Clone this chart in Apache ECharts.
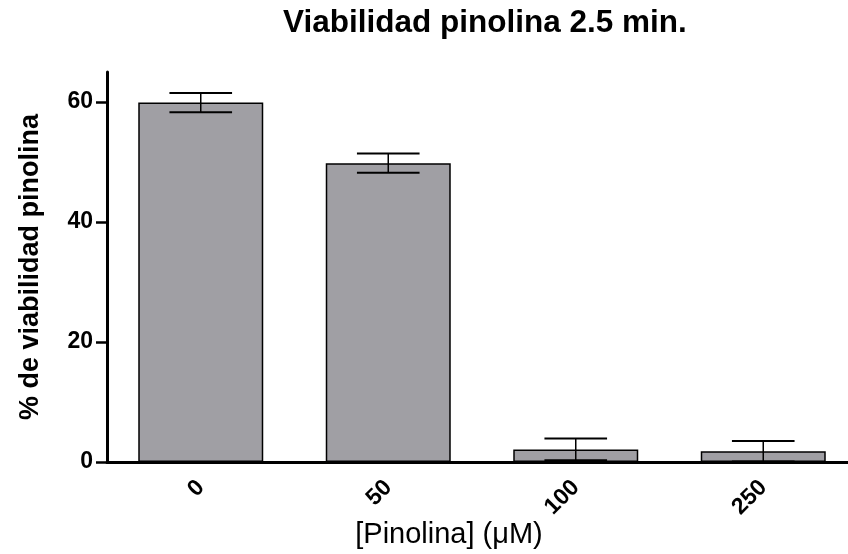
<!DOCTYPE html>
<html>
<head>
<meta charset="utf-8">
<script src="https://cdn.jsdelivr.net/npm/echarts@6/dist/echarts.min.js"></script>
<style>
  html, body { margin: 0; padding: 0; background: #fff; }
  #main { width: 848px; height: 554px; }
</style>
</head>
<body>
<div id="main"></div>
<script>
// datos
var categories = ['0', '50', '100', '250'];
var viability = [59.9, 49.8, 2.1, 1.8];
var sem = [1.6, 1.6, 1.8, 1.7];
var yTicks = [0, 20, 40, 60];

var FONT = 'Liberation Sans, Arial, Helvetica, sans-serif';

var errData = viability.map(function (v, i) {
    return [i, v - sem[i], v + sem[i]];
});

var myChart = echarts.init(document.getElementById('main'));
myChart.setOption({
    backgroundColor: '#fff',
    animation: false,
    title: {
        text: 'Viabilidad pinolina 2.5 min.',
        left: 283,
        top: 7,
        padding: 0,
        textStyle: { fontFamily: FONT, fontWeight: 'bold', fontSize: 31.5, color: '#000' }
    },
    graphic: [{
        type: 'text',
        x: 449,
        y: 535,
        style: {
            text: '[Pinolina] (\u03bcM)',
            font: '29px ' + FONT,
            fill: '#000',
            align: 'center',
            verticalAlign: 'middle'
        }
    }],
    grid: { left: 107, width: 750, top: 72, bottom: 92, outerBoundsMode: 'none' },
    xAxis: {
        type: 'category',
        data: categories,
        axisLine: { lineStyle: { color: '#000', width: 3 } },
        axisTick: { alignWithLabel: true, length: 9, lineStyle: { color: '#000', width: 3 } },
        axisLabel: {
            rotate: 45, margin: 22, color: '#000',
            fontFamily: FONT, fontWeight: 'bold', fontSize: 23
        }
    },
    yAxis: {
        type: 'value',
        min: 0,
        max: 65,
        name: '% de viabilidad pinolina',
        nameLocation: 'middle',
        nameGap: 63,
        nameTextStyle: { fontFamily: FONT, fontWeight: 'bold', fontSize: 27, color: '#000' },
        splitLine: { show: false },
        axisLine: { show: true, lineStyle: { color: '#000', width: 3 } },
        axisTick: { show: true, length: 11, customValues: yTicks, lineStyle: { color: '#000', width: 2.5 } },
        axisLabel: {
            margin: 14, color: '#000', customValues: yTicks,
            fontFamily: FONT, fontWeight: 'bold', fontSize: 23
        }
    },
    series: [{
        type: 'bar',
        data: viability,
        barWidth: 125,
        itemStyle: { color: '#a09fa4', borderColor: '#000', borderWidth: 1.5 }
    }, {
        type: 'custom',
        data: errData,
        z: 5,
        renderItem: function (params, api) {
            var x = api.value(0);
            var lo = api.coord([x, api.value(1)]);
            var hi = api.coord([x, api.value(2)]);
            var half = api.size([1, 0])[0] * 0.167;
            var st = { stroke: '#000', lineWidth: 2 };
            return {
                type: 'group',
                children: [
                    { type: 'line', shape: { x1: hi[0], y1: hi[1], x2: lo[0], y2: lo[1] }, style: { stroke: '#000', lineWidth: 1.5 } },
                    { type: 'line', shape: { x1: hi[0] - half, y1: hi[1], x2: hi[0] + half, y2: hi[1] }, style: st },
                    { type: 'line', shape: { x1: lo[0] - half, y1: lo[1], x2: lo[0] + half, y2: lo[1] }, style: st }
                ]
            };
        }
    }]
});
</script>
</body>
</html>
